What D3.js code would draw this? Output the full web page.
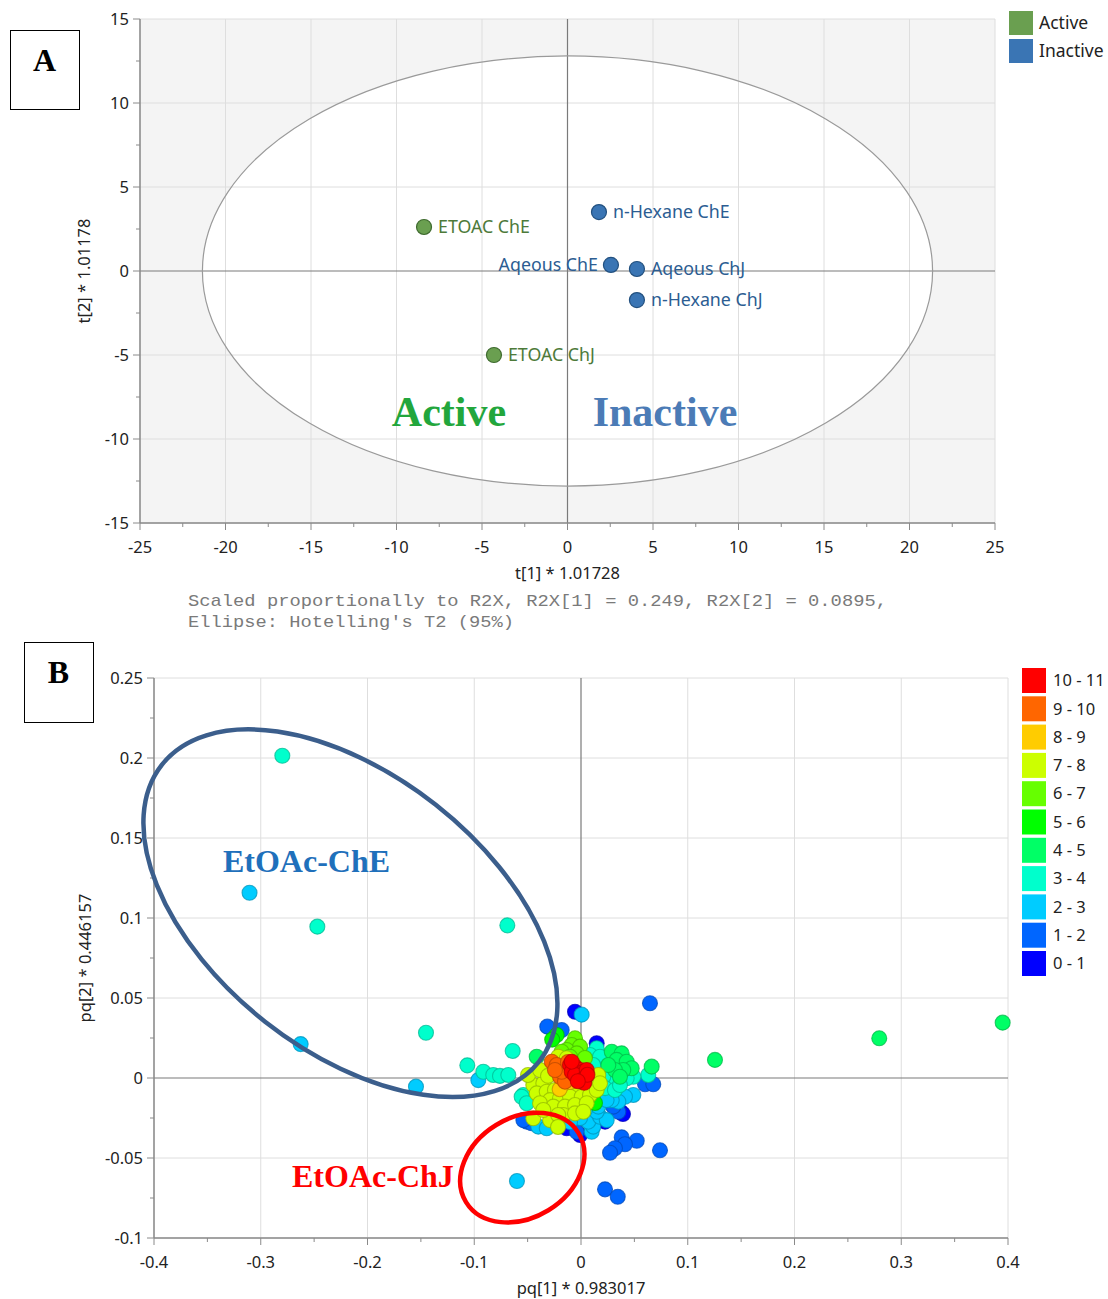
<!DOCTYPE html>
<html>
<head>
<meta charset="utf-8">
<script src="https://cdn.jsdelivr.net/npm/d3@7"></script>
<style>
  html, body { margin: 0; padding: 0; background: #fff; }
  svg { display: block; }
</style>
</head>
<body>
<script>
// ---------- Panel A: PCA score plot ----------
const scoreNames  = ["ETOAC ChE", "ETOAC ChJ", "n-Hexane ChE", "Aqeous ChE", "Aqeous ChJ", "n-Hexane ChJ"];
const scoreT1     = [-8.39, -4.30, 1.84, 2.54, 4.06, 4.06];
const scoreT2     = [2.62, -5.00, 3.51, 0.36, 0.12, -1.73];
const scoreGroup  = ["Active", "Active", "Inactive", "Inactive", "Inactive", "Inactive"];
const groupNames  = ["Active", "Inactive"];
const hotellingRadii = [21.35, 12.8];          // T2 (95%) ellipse semi-axes in t[1], t[2]
const scoreTicksX = [-25, -20, -15, -10, -5, 0, 5, 10, 15, 20, 25];
const scoreTicksY = [-15, -10, -5, 0, 5, 10, 15];

// ---------- Panel B: loading plot, colour class = intensity bin ----------
const binLabels = ["0 - 1", "1 - 2", "2 - 3", "3 - 4", "4 - 5", "5 - 6", "6 - 7", "7 - 8", "8 - 9", "9 - 10", "10 - 11"];
const loadPq1 = [
  // bin 0
  -0.0056, 0.0147, 0.0225, 0.0375, -0.0134, -0.0009, 0.0393,
  // bin 1
  0.0646, -0.0316, -0.0181, 0.0600, 0.0677, 0.0350, 0.0381, 0.0522, 0.0412, 0.0318, 0.0272, 0.0740, 0.0225, 0.0344, 0.0303, -0.0509, -0.0462, -0.0040, -0.0540,
  // bin 2
  -0.3105, -0.2626, -0.1546, -0.0962, 0.0006, 0.0490, 0.0100, -0.0600, 0.0412, 0.0350, 0.0288, 0.0209, -0.0400, -0.0321, 0.0115, 0.0068, 0.0178, 0.0241, 0.0147, 0.0162, 0.0240, -0.0009, -0.0103, 0.0037,
  // bin 3
  -0.2798, -0.2470, -0.0690, -0.1452, -0.1065, -0.0640, -0.0915, -0.0822, -0.0759, -0.0681, -0.0540, 0.0630, 0.0147, 0.0084, 0.0178, 0.0115, 0.0490, 0.0428, 0.0303, 0.0209, -0.0556, -0.0509, 0.0225, 0.0318, 0.0365,
  // bin 4
  0.1255, 0.2794, 0.3950, 0.0662, -0.0415, 0.0288, 0.0381, 0.0334, 0.0428, 0.0475, 0.0396, 0.0318, 0.0256, 0.0365,
  // bin 5
  -0.0228, 0.0131, -0.0270,
  // bin 6
  -0.0056, -0.0087, -0.0009, -0.0134, -0.0040, -0.0181, -0.0103, 0.0037,
  // bin 7
  -0.0447, -0.0353, -0.0415, -0.0321, -0.0244, -0.0134, -0.0040, 0.0053, 0.0131, -0.0290, -0.0197, -0.0103, 0.0007, 0.0084, 0.0147, -0.0384, -0.0259, -0.0150, -0.0056, 0.0053, -0.0166, -0.0056, 0.0022, -0.0213, -0.0134, 0.0162, 0.0178, -0.0447, -0.0290, -0.0353, -0.0213, -0.0496, -0.0384, -0.0309, -0.0215,
  // bin 8
  -0.0169, -0.0103, -0.0200,
  // bin 9
  -0.0274, -0.0228, -0.0197, -0.0150, -0.0181, -0.0244, -0.0122,
  // bin 10
  -0.0103, -0.0056, -0.0009, 0.0022, -0.0087, 0.0037, -0.0009, -0.0056, 0.0053, -0.0087, 0.0007, 0.0030, 0.0060, -0.0030
];
const loadPq2 = [
  // bin 0
  0.0414, 0.0217, -0.0273, -0.0213, -0.0314, -0.0356, -0.0225,
  // bin 1
  0.0467, 0.0321, 0.0300, -0.0039, -0.0039, -0.0211, -0.0371, -0.0392, -0.0414, -0.0439, -0.0467, -0.0452, -0.0696, -0.0742, -0.0179, -0.0273, -0.0283, -0.0336, -0.0263,
  // bin 2
  0.1158, 0.0212, -0.0054, -0.0013, 0.0396, -0.0106, -0.0336, -0.0644, -0.0117, -0.0148, -0.0138, -0.0117, -0.0304, -0.0314, -0.0304, -0.0273, -0.0242, -0.0263, -0.0211, -0.0179, -0.0138, -0.0250, -0.0275, -0.0200,
  // bin 3
  0.2014, 0.0946, 0.0954, 0.0283, 0.0079, 0.0169, 0.0039, 0.0019, 0.0013, 0.0019, -0.0106, 0.0019, 0.0186, 0.0144, 0.0133, 0.0081, 0.0008, -0.0002, -0.0023, 0.0008, -0.0117, -0.0158, -0.0063, -0.0075, -0.0044,
  // bin 4
  0.0113, 0.0248, 0.0346, 0.0071, 0.0133, 0.0164, 0.0154, 0.0113, 0.0102, 0.0061, 0.0050, 0.0050, 0.0081, 0.0008,
  // bin 5
  0.0269, -0.0156, 0.0240,
  // bin 6
  0.0248, 0.0206, 0.0196, 0.0175, 0.0154, 0.0164, 0.0133, 0.0125,
  // bin 7
  -0.0044, -0.0033, -0.0096, -0.0086, -0.0075, -0.0075, -0.0064, -0.0054, -0.0044, -0.0138, -0.0127, -0.0117, -0.0117, -0.0106, -0.0075, -0.0158, -0.0179, -0.0179, -0.0169, -0.0158, -0.0231, -0.0221, -0.0211, 0.0133, 0.0123, 0.0019, -0.0033, -0.0252, -0.0263, -0.0200, -0.0231, 0.0019, 0.0050, 0.0013, -0.0306,
  // bin 8
  -0.0038, -0.0025, -0.0070,
  // bin 9
  0.0102, 0.0081, 0.0008, -0.0023, 0.0039, 0.0050, 0.0100,
  // bin 10
  0.0081, 0.0071, 0.0050, 0.0039, 0.0039, -0.0002, -0.0002, 0.0019, 0.0050, 0.0102, -0.0013, -0.0030, 0.0020, -0.0020
];
const loadBin = [
  0,0,0,0,0,0,0,
  1,1,1,1,1,1,1,1,1,1,1,1,1,1,1,1,1,1,1,
  2,2,2,2,2,2,2,2,2,2,2,2,2,2,2,2,2,2,2,2,2,2,2,2,
  3,3,3,3,3,3,3,3,3,3,3,3,3,3,3,3,3,3,3,3,3,3,3,3,3,
  4,4,4,4,4,4,4,4,4,4,4,4,4,4,
  5,5,5,
  6,6,6,6,6,6,6,6,
  7,7,7,7,7,7,7,7,7,7,7,7,7,7,7,7,7,7,7,7,7,7,7,7,7,7,7,7,7,7,7,7,7,7,7,
  8,8,8,
  9,9,9,9,9,9,9,
  10,10,10,10,10,10,10,10,10,10,10,10,10,10
];
const loadTicksX = [-0.4, -0.3, -0.2, -0.1, 0, 0.1, 0.2, 0.3, 0.4];
const loadTicksY = [-0.1, -0.05, 0, 0.05, 0.1, 0.15, 0.2, 0.25];
// Circled groups of variables: centre (pq[1], pq[2]) and label anchor
const regionNames = ["EtOAc-ChE", "EtOAc-ChJ"];
const regionCentre = [[-0.216, 0.103], [-0.055, -0.056]];
const regionLabelAt = [[-0.3354, 0.1288], [-0.2707, -0.0681]];

// ---------- drawing ----------
const SANS = "'Segoe UI', 'Noto Sans', 'Open Sans', sans-serif";
const SERIF = "'Liberation Serif', 'Times New Roman', serif";
const MONO = "'Liberation Mono', 'DejaVu Sans Mono', monospace";

const svg = d3.select("body").append("svg")
  .attr("width", 1108).attr("height", 1299);

function frameLabel(x, y, w, h, letter) {
  svg.append("rect").attr("x", x + 0.5).attr("y", y + 0.5).attr("width", w).attr("height", h)
    .attr("fill", "#fff").attr("stroke", "#000").attr("stroke-width", 1);
  svg.append("text").attr("x", x + w / 2).attr("y", y + 41)
    .attr("text-anchor", "middle").attr("font-family", SERIF).attr("font-weight", "bold")
    .attr("font-size", 32).attr("fill", "#000").text(letter);
}

function drawAxes(g, x, y, ticksX, ticksY, fmt, minorX, minorY) {
  const [x0, x1] = x.range();
  const [y0, y1] = y.range(); // y0 bottom, y1 top
  // grid
  g.append("g").selectAll("line").data(ticksX.filter(t => t !== 0)).join("line")
    .attr("x1", d => x(d)).attr("x2", d => x(d)).attr("y1", y1).attr("y2", y0)
    .attr("stroke", "#dedede").attr("stroke-width", 1);
  g.append("g").selectAll("line").data(ticksY.filter(t => t !== 0)).join("line")
    .attr("y1", d => y(d)).attr("y2", d => y(d)).attr("x1", x0).attr("x2", x1)
    .attr("stroke", "#dedede").attr("stroke-width", 1);
  // zero lines
  g.append("line").attr("x1", x(0)).attr("x2", x(0)).attr("y1", y1).attr("y2", y0)
    .attr("stroke", "#7a7a7a").attr("stroke-width", 1.2);
  g.append("line").attr("y1", y(0)).attr("y2", y(0)).attr("x1", x0).attr("x2", x1)
    .attr("stroke", "#7a7a7a").attr("stroke-width", 1.2);
  // left axis
  const la = g.append("g").attr("transform", `translate(${x0},0)`);
  la.append("line").attr("y1", y1).attr("y2", y0).attr("stroke", "#8a8a8a").attr("stroke-width", 1.5);
  la.selectAll(".mj").data(ticksY).join("line").attr("class", "mj")
    .attr("x1", -7).attr("x2", 0).attr("y1", d => y(d)).attr("y2", d => y(d)).attr("stroke", "#8a8a8a");
  la.selectAll(".mn").data(minorY).join("line").attr("class", "mn")
    .attr("x1", -4).attr("x2", 0).attr("y1", d => y(d)).attr("y2", d => y(d)).attr("stroke", "#8a8a8a");
  la.selectAll("text").data(ticksY).join("text")
    .attr("x", -11).attr("y", d => y(d)).attr("dy", "0.35em").attr("text-anchor", "end")
    .attr("font-family", SANS).attr("font-size", 16.5).attr("fill", "#222").text(fmt);
  // bottom axis
  const ba = g.append("g").attr("transform", `translate(0,${y0})`);
  ba.append("line").attr("x1", x0).attr("x2", x1).attr("stroke", "#8a8a8a").attr("stroke-width", 1.5);
  ba.selectAll(".mj").data(ticksX).join("line").attr("class", "mj")
    .attr("x1", d => x(d)).attr("x2", d => x(d)).attr("y1", 0).attr("y2", 7).attr("stroke", "#8a8a8a");
  ba.selectAll(".mn").data(minorX).join("line").attr("class", "mn")
    .attr("x1", d => x(d)).attr("x2", d => x(d)).attr("y1", 0).attr("y2", 4).attr("stroke", "#8a8a8a");
  ba.selectAll("text").data(ticksX).join("text")
    .attr("x", d => x(d)).attr("y", 24).attr("dy", "0.35em").attr("text-anchor", "middle")
    .attr("font-family", SANS).attr("font-size", 16.5).attr("fill", "#222").text(fmt);
}

function midpoints(t) {
  const out = [];
  for (let i = 0; i < t.length - 1; i++) out.push((t[i] + t[i + 1]) / 2);
  return out;
}

// plain hyphen-minus tick labels
const plainNum = d => d === 0 ? "0" : String(+d.toFixed(3));

// ===== Panel A =====
{
  const g = svg.append("g");
  const x = d3.scaleLinear().domain([-25, 25]).range([140, 995]);
  const y = d3.scaleLinear().domain([-15, 15]).range([523, 19]);
  const groupFill = d3.scaleOrdinal().domain(groupNames).range(["#6a9f50", "#3a75b4"]);
  const groupStroke = d3.scaleOrdinal().domain(groupNames).range(["#3e6a2e", "#22507f"]);
  const groupText = d3.scaleOrdinal().domain(groupNames).range(["#4d7a3a", "#2c5d92"]);

  g.append("rect").attr("x", x(-25)).attr("y", y(15)).attr("width", x(25) - x(-25)).attr("height", y(-15) - y(15))
    .attr("fill", "#f4f4f4");
  const ell = () => g.append("ellipse").attr("cx", x(0)).attr("cy", y(0))
    .attr("rx", x(hotellingRadii[0]) - x(0)).attr("ry", y(0) - y(hotellingRadii[1]));
  ell().attr("fill", "#fff");

  drawAxes(g, x, y, scoreTicksX, scoreTicksY, plainNum,
    midpoints(scoreTicksX), midpoints(scoreTicksY));

  ell().attr("fill", "none").attr("stroke", "#9a9a9a").attr("stroke-width", 1.2);

  const pts = scoreNames.map((n, i) => ({ n, t1: scoreT1[i], t2: scoreT2[i], grp: scoreGroup[i] }));
  g.selectAll(".pt").data(pts).join("circle").attr("class", "pt")
    .attr("cx", d => x(d.t1)).attr("cy", d => y(d.t2)).attr("r", 7.5)
    .attr("fill", d => groupFill(d.grp)).attr("stroke", d => groupStroke(d.grp)).attr("stroke-width", 1.2);
  g.selectAll(".pl").data(pts).join("text").attr("class", "pl")
    .attr("x", d => x(d.t1) + (d.n === "Aqeous ChE" ? -13 : 14))
    .attr("y", d => y(d.t2)).attr("dy", "0.35em")
    .attr("text-anchor", d => d.n === "Aqeous ChE" ? "end" : "start")
    .attr("font-family", SANS).attr("font-size", 17.8).attr("fill", d => groupText(d.grp)).text(d => d.n);

  // group headings
  g.append("text").attr("x", x(-6.93)).attr("y", y(-9.23)).attr("text-anchor", "middle")
    .attr("font-family", SERIF).attr("font-weight", "bold").attr("font-size", 42)
    .attr("fill", "#22a63c").text("Active");
  g.append("text").attr("x", x(5.7)).attr("y", y(-9.23)).attr("text-anchor", "middle")
    .attr("font-family", SERIF).attr("font-weight", "bold").attr("font-size", 42)
    .attr("fill", "#4b7bb6").text("Inactive");

  // axis titles
  g.append("text").attr("transform", `translate(90,${y(0)}) rotate(-90)`).attr("text-anchor", "middle")
    .attr("font-family", SANS).attr("font-size", 16.5).attr("fill", "#222").text("t[2] * 1.01178");
  g.append("text").attr("x", x(0)).attr("y", 579).attr("text-anchor", "middle")
    .attr("font-family", SANS).attr("font-size", 16.5).attr("fill", "#222").text("t[1] * 1.01728");
  g.append("text").attr("x", 188).attr("y", 606).attr("font-family", MONO).attr("font-size", 17)
    .attr("fill", "#7a7a7a").attr("textLength", 699).attr("lengthAdjust", "spacingAndGlyphs")
    .text("Scaled proportionally to R2X, R2X[1] = 0.249, R2X[2] = 0.0895,");
  g.append("text").attr("x", 188).attr("y", 627).attr("font-family", MONO).attr("font-size", 17)
    .attr("fill", "#7a7a7a").attr("textLength", 326).attr("lengthAdjust", "spacingAndGlyphs")
    .text("Ellipse: Hotelling's T2 (95%)");

  // legend
  const lg = g.append("g").attr("transform", "translate(1009,11)");
  lg.selectAll("rect").data(groupNames).join("rect")
    .attr("x", 0).attr("y", (d, i) => i * 28).attr("width", 24).attr("height", 24)
    .attr("fill", d => groupFill(d));
  lg.selectAll("text").data(groupNames).join("text")
    .attr("x", 30).attr("y", (d, i) => i * 28 + 12).attr("dy", "0.35em")
    .attr("font-family", SANS).attr("font-size", 17.5).attr("fill", "#222").text(d => d);

  frameLabel(10, 30, 69, 79, "A");
}

// ===== Panel B =====
{
  const g = svg.append("g");
  const x = d3.scaleLinear().domain([-0.4, 0.4]).range([154, 1008]);
  const y = d3.scaleLinear().domain([-0.1, 0.25]).range([1238, 678]);
  const binColour = d3.scaleOrdinal().domain(d3.range(binLabels.length))
    .range(["#0000ff", "#0066ff", "#00ccff", "#00ffcc", "#00ff66", "#00ff00", "#66ff00", "#ccff00", "#ffcc00", "#ff6600", "#ff0000"]);

  drawAxes(g, x, y, loadTicksX, loadTicksY, plainNum,
    midpoints(loadTicksX), midpoints(loadTicksY));

  const pts = loadPq1.map((v, i) => ({ p1: v, p2: loadPq2[i], b: loadBin[i] }))
    .sort((a, b) => a.b - b.b);
  g.selectAll(".pt").data(pts).join("circle").attr("class", "pt")
    .attr("cx", d => x(d.p1)).attr("cy", d => y(d.p2)).attr("r", 7.5)
    .attr("fill", d => binColour(d.b))
    .attr("stroke", d => d3.color(binColour(d.b)).darker(0.9).formatHex())
    .attr("stroke-opacity", 0.75).attr("stroke-width", 1.1);

  // circled groups
  g.append("ellipse").attr("cx", x(regionCentre[0][0])).attr("cy", y(regionCentre[0][1]))
    .attr("rx", 240).attr("ry", 138)
    .attr("transform", `rotate(38.2 ${x(regionCentre[0][0])} ${y(regionCentre[0][1])})`)
    .attr("fill", "none").attr("stroke", "#3b5e8c").attr("stroke-width", 4.5);
  g.append("ellipse").attr("cx", x(regionCentre[1][0])).attr("cy", y(regionCentre[1][1]))
    .attr("rx", 66).attr("ry", 50)
    .attr("transform", `rotate(-31.5 ${x(regionCentre[1][0])} ${y(regionCentre[1][1])})`)
    .attr("fill", "none").attr("stroke", "#ff0000").attr("stroke-width", 4.5);
  g.append("text").attr("x", x(regionLabelAt[0][0])).attr("y", y(regionLabelAt[0][1]))
    .attr("font-family", SERIF).attr("font-weight", "bold").attr("font-size", 32)
    .attr("fill", "#1f70bb").text(regionNames[0]);
  g.append("text").attr("x", x(regionLabelAt[1][0])).attr("y", y(regionLabelAt[1][1]))
    .attr("font-family", SERIF).attr("font-weight", "bold").attr("font-size", 32)
    .attr("fill", "#ff0000").text(regionNames[1]);

  // axis titles
  g.append("text").attr("transform", `translate(91,${(678 + 1238) / 2}) rotate(-90)`).attr("text-anchor", "middle")
    .attr("font-family", SANS).attr("font-size", 16.5).attr("fill", "#222").text("pq[2] * 0.446157");
  g.append("text").attr("x", x(0)).attr("y", 1294).attr("text-anchor", "middle")
    .attr("font-family", SANS).attr("font-size", 16.5).attr("fill", "#222").text("pq[1] * 0.983017");

  // bin legend (highest bin first)
  const order = d3.range(binLabels.length).reverse();
  const lg = g.append("g").attr("transform", "translate(1022,668)");
  lg.selectAll("rect").data(order).join("rect")
    .attr("x", 0).attr("y", (d, i) => i * 28.3).attr("width", 24).attr("height", 25)
    .attr("fill", d => binColour(d));
  lg.selectAll("text").data(order).join("text")
    .attr("x", 31).attr("y", (d, i) => i * 28.3 + 12.5).attr("dy", "0.35em")
    .attr("font-family", SANS).attr("font-size", 16.5).attr("fill", "#222").text(d => binLabels[d]);

  frameLabel(24, 642, 69, 80, "B");
}
</script>
</body>
</html>
